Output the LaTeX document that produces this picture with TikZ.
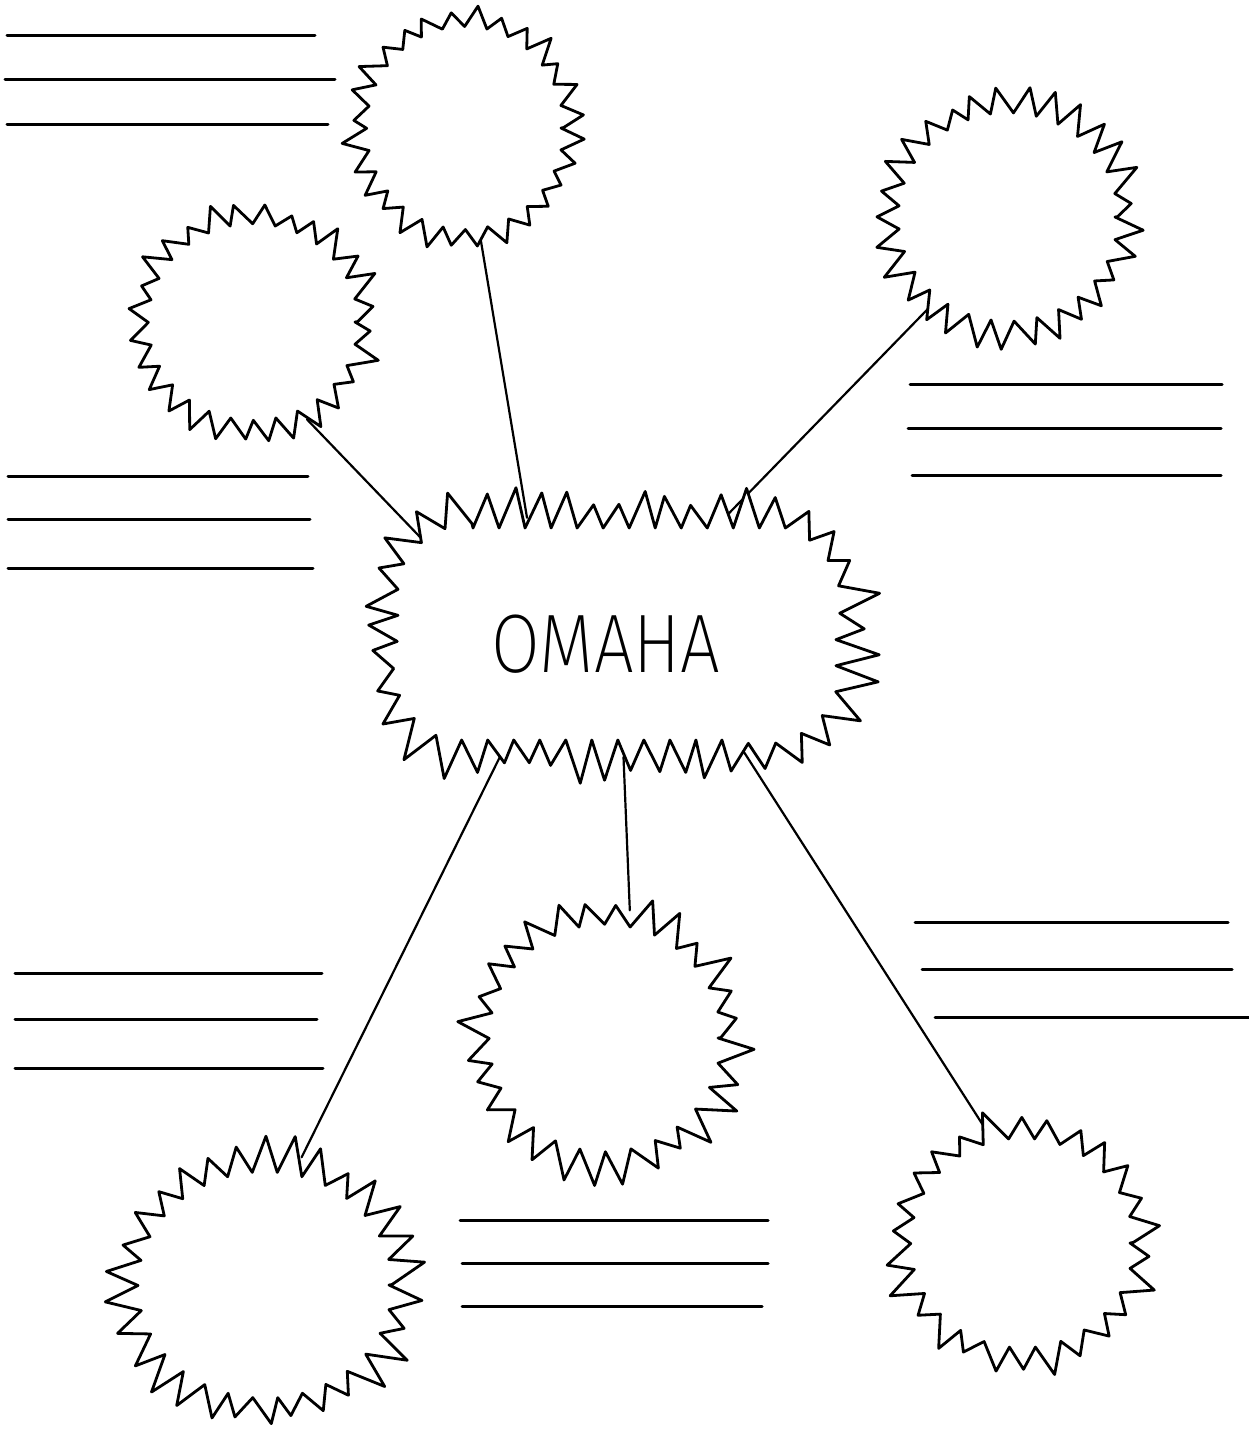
\documentclass[tikz,border=0pt]{standalone}
\usepackage{fontspec}
\IfFontExistsTF{Fira Sans ExtraLight}
  {\newfontfamily\lettering{Fira Sans ExtraLight}}
  {\IfFontExistsTF{Fira Sans Light}
    {\newfontfamily\lettering{Fira Sans Light}}
    {\newfontfamily\lettering{Fira Sans}}}
\usetikzlibrary{shapes.geometric,decorations}

% saw-tooth outline: a whole number of spikes around the path, random heights,
% pointing to the left of the path
\pgfdeclaredecoration{spikes}{tip}{%
  \state{tip}[width=\pgfdecoratedpathlength/round(\pgfdecoratedpathlength/\spikestep),
              switch if less than=0.5*\pgfdecoratedpathlength/round(\pgfdecoratedpathlength/\spikestep) to final]{%
    \pgfmathsetmacro\spkW{\pgfdecoratedpathlength/round(\pgfdecoratedpathlength/\spikestep)}%
    \pgfmathsetmacro\spkH{\spikeamp*(0.5+0.5*rnd)}%
    \pgfmathsetmacro\spkX{\spkW*(0.5+0.18*rand)}%
    \pgfpathlineto{\pgfpoint{\spkX pt}{\spkH pt}}%
    \pgfpathlineto{\pgfpoint{\spkW pt}{0pt}}%
  }%
  \state{final}{\pgfpathlineto{\pgfpointdecoratedpathlast}}%
}

\tikzset{
  burst/.style={draw=black, fill=white, line width=2.8pt, line join=round, line cap=round},
  spiky/.style n args={3}{/utils/exec={\def\spikestep{#1}\def\spikeamp{#2}\pgfmathsetseed{#3}},
    decoration={spikes}, decorate},
  rule/.style={draw=black, line width=3pt, line cap=round},
  link/.style={draw=black, line width=2.2pt, line cap=round},
  hub/.style={ellipse, draw=none, inner sep=0pt, outer sep=0pt},
}

\begin{document}
\begin{tikzpicture}[x=1pt, y=-1pt]
\useasboundingbox (0,0) rectangle (1249,1435);

% hubs used to attach the connecting lines
\node[hub, minimum width=218pt, minimum height=224pt] (tc) at (465,128) {};
\node[hub, minimum width=232pt, minimum height=220pt] (ul) at (253,322) {};
\node[hub, minimum width=244pt, minimum height=234pt] (ur) at (1008,217) {};
\node[hub, minimum width=486pt, minimum height=248pt] (om) at (617,633) {};
\node[hub, minimum width=264pt, minimum height=260pt] (bm) at (605,1038) {};
\node[hub, minimum width=290pt, minimum height=264pt] (bl) at (265,1285) {};
\node[hub, minimum width=254pt, minimum height=242pt] (br) at (1022,1243) {};

% connecting lines
\draw[link] (tc.-82) -- (om.128);
\draw[link] (ul.-61) -- (om.156);
\draw[link] (ur.229) -- (om.47);
\draw[link] (om.-87) -- (bm.79);
\draw[link] (om.225) -- (bl.74);
\draw[link] (om.-42) -- (br.108);

% spiky bubbles
\filldraw[burst, spiky={22}{28}{11}] (465,128) ellipse [x radius=96, y radius=99];
\filldraw[burst, spiky={22}{30}{23}] (253,322) ellipse [x radius=102, y radius=96];
\filldraw[burst, spiky={23}{32}{37}] (1008,217) ellipse [x radius=107, y radius=102];
\filldraw[burst, spiky={26}{44}{41}]
  (473,528) -- (761,528) arc[start angle=-90, end angle=0, radius=75]
  -- (836,665) arc[start angle=0, end angle=90, radius=75]
  -- (473,740) arc[start angle=90, end angle=180, radius=75]
  -- (398,603) arc[start angle=180, end angle=270, radius=75] -- cycle;
\filldraw[burst, spiky={25}{38}{53}] (605,1038) ellipse [x radius=113, y radius=111];
\filldraw[burst, spiky={25}{40}{67}] (265,1285) ellipse [x radius=124, y radius=111];
\filldraw[burst, spiky={25}{38}{79}] (1022,1243) ellipse [x radius=108, y radius=102];

\node[anchor=base, inner sep=0pt] (omaha) at (606,672)
  {\scalebox{0.85}[1]{\fontsize{83}{90}\lettering OMAHA}};

% writing lines
\draw[rule] (7,35) -- (315,35);
\draw[rule] (5,79) -- (335,79);
\draw[rule] (7,124) -- (328,124);

\draw[rule] (8,476) -- (308,476);
\draw[rule] (8,519) -- (310,519);
\draw[rule] (8,568) -- (313,568);

\draw[rule] (15,973) -- (322,973);
\draw[rule] (15,1019) -- (317,1019);
\draw[rule] (15,1068) -- (323,1068);

\draw[rule] (910,384) -- (1222,384);
\draw[rule] (908,428) -- (1221,428);
\draw[rule] (912,475) -- (1221,475);

\draw[rule] (915,922) -- (1228,922);
\draw[rule] (922,969) -- (1232,969);
\draw[rule] (935,1017) -- (1249,1017);

\draw[rule] (460,1220) -- (768,1220);
\draw[rule] (462,1263) -- (768,1263);
\draw[rule] (462,1306) -- (762,1306);
\end{tikzpicture}
\end{document}
